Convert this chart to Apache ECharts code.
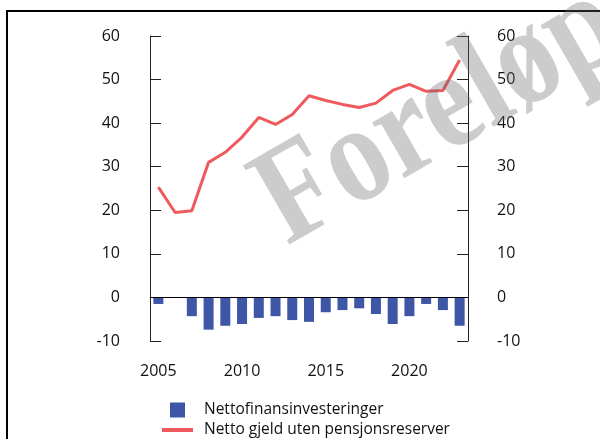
<!DOCTYPE html>
<html>
<head>
<meta charset="utf-8">
<script src="https://cdn.jsdelivr.net/npm/echarts@6/dist/echarts.min.js"></script>
<style>
  html, body { margin: 0; padding: 0; background: #fff; }
  #chart { width: 600px; height: 439px; }
</style>
</head>
<body>
<div id="chart"></div>
<script>
// years on the x axis
const years = ['2005','2006','2007','2008','2009','2010','2011','2012','2013','2014',
  '2015','2016','2017','2018','2019','2020','2021','2022','2023'];

// Nettofinansinvesteringer (bars)
const netFinInv = [-1.5, 0, -4.3, -7.4, -6.5, -6.1, -4.7, -4.3, -5.2, -5.6,
  -3.4, -2.9, -2.5, -3.8, -6.1, -4.3, -1.5, -2.9, -6.5];

// Netto gjeld uten pensjonsreserver (line)
const netDebt = [25.3, 19.5, 19.9, 31.0, 33.3, 36.8, 41.3, 39.7, 42.0, 46.3,
  45.2, 44.3, 43.6, 44.6, 47.5, 48.9, 47.3, 47.5, 54.5];

const yMin = -10, yMax = 60, yStep = 10;
const watermark = 'Foreløpig';

const font = '"Open Sans", "Noto Sans", sans-serif';
const blue = '#3F55A6';
const red = '#EF5A5F';

const chart = echarts.init(document.getElementById('chart'), null, {renderer: 'canvas'});

const yAxisBase = (pos, margin) => ({
  type: 'value',
  position: pos,
  min: yMin, max: yMax, interval: yStep,
  axisLine: {show: true, lineStyle: {color: '#222', width: 1}},
  axisTick: {show: true, inside: true, length: 11, lineStyle: {color: '#222'}},
  splitLine: {show: false},
  axisLabel: {color: '#111', fontSize: 16, fontFamily: font, margin: margin, padding: [4, 0, 0, 0]}
});

chart.setOption({
  animation: false,
  backgroundColor: '#fff',
  grid: {left: 150, right: 132, top: 36, bottom: 98, containLabel: false},
  xAxis: {
    type: 'category',
    data: years,
    boundaryGap: true,
    axisLine: {show: true, lineStyle: {color: '#444', width: 1}},
    axisTick: {show: false},
    axisLabel: {
      interval: 4, color: '#111', fontSize: 16, fontFamily: font, margin: 22
    }
  },
  yAxis: [yAxisBase('left', 30), yAxisBase('right', 29)],
  legend: [
    {
      orient: 'vertical', left: 165, top: 397,
      itemWidth: 15, itemHeight: 15,
      textStyle: {color: '#111', fontSize: 15.5, fontFamily: font, padding: [0, 0, 0, 14]},
      data: [{name: 'Nettofinansinvesteringer', icon: 'rect'}]
    },
    {
      orient: 'vertical', left: 157, top: 417,
      itemWidth: 31, itemHeight: 4,
      textStyle: {color: '#111', fontSize: 15.5, fontFamily: font, padding: [0, 0, 0, 6]},
      data: [{name: 'Netto gjeld uten pensjonsreserver', icon: 'rect'}]
    }
  ],
  series: [
    {
      name: 'Nettofinansinvesteringer',
      type: 'bar',
      data: netFinInv,
      barWidth: 10,
      itemStyle: {color: blue},
      markLine: {
        silent: true,
        symbol: 'none',
        label: {show: false},
        lineStyle: {color: '#000', type: 'solid', width: 1},
        data: [{yAxis: 0}]
      }
    },
    {
      name: 'Netto gjeld uten pensjonsreserver',
      type: 'line',
      data: netDebt,
      symbol: 'none',
      showSymbol: false,
      lineStyle: {color: red, width: 3},
      itemStyle: {color: red}
    }
  ],
  graphic: [
    {
      type: 'rect',
      shape: {x: 7, y: 11, width: 700, height: 600},
      style: {fill: 'none', stroke: '#000', lineWidth: 2},
      silent: true, z: 100
    },
    {
      type: 'text',
      x: 234, y: 154,
      rotation: 30 * Math.PI / 180,
      scaleX: 0.85,
      style: {
        text: watermark,
        fill: 'rgba(100,100,100,0.33)',
        font: 'bold 140px "Liberation Serif", "DejaVu Serif", serif',
        textAlign: 'left',
        textVerticalAlign: 'top'
      },
      silent: true, z: 101
    }
  ]
});
</script>
</body>
</html>
